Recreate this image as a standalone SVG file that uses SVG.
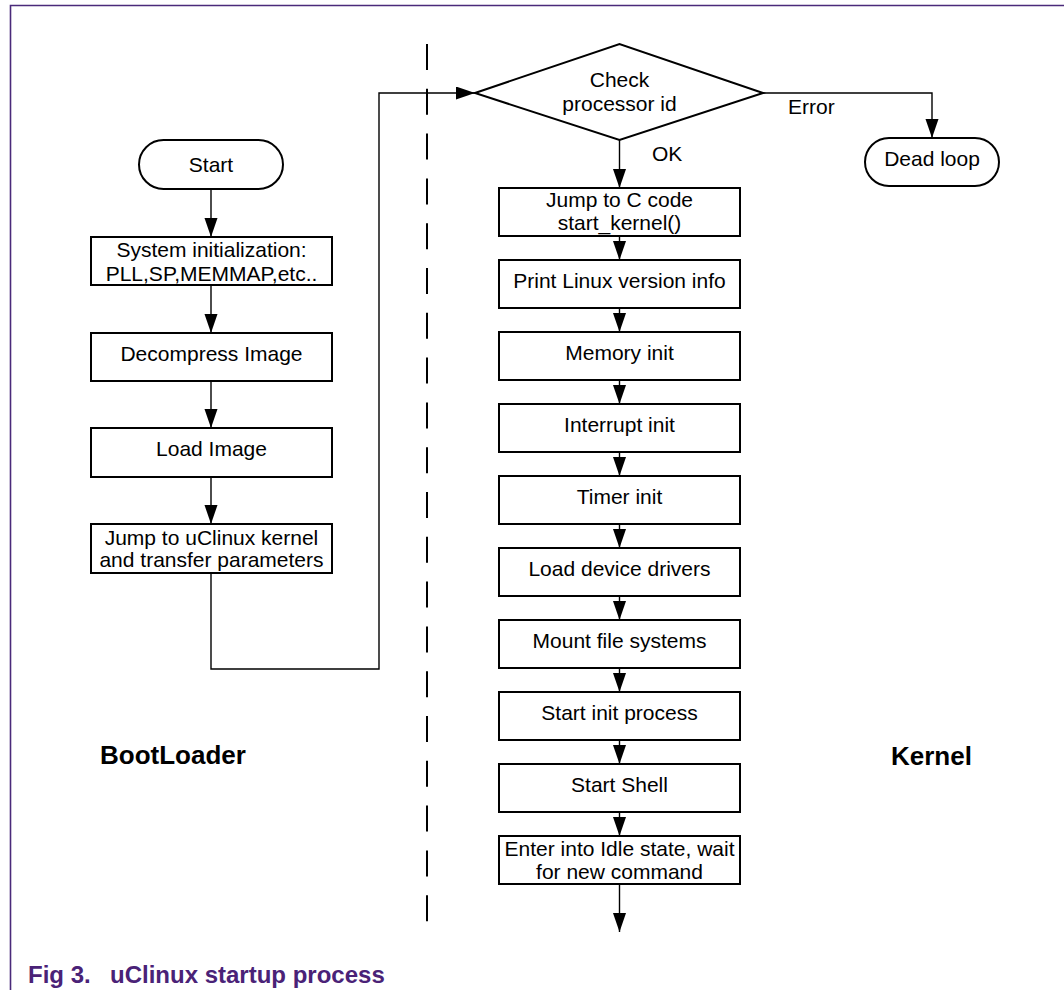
<svg xmlns="http://www.w3.org/2000/svg" width="1064" height="990" viewBox="0 0 1064 990">
<style>
.box{fill:#fff;stroke:#000;stroke-width:2}
.t{font-family:"Liberation Sans",Arial,sans-serif;font-size:21px;fill:#000;text-anchor:middle}
.lbl{font-family:"Liberation Sans",Arial,sans-serif;font-size:21px;fill:#000}
.big{font-family:"Liberation Sans",Arial,sans-serif;font-size:26px;font-weight:bold;fill:#000}
.cap{font-family:"Liberation Sans",Arial,sans-serif;font-size:24px;font-weight:bold;fill:#4a2277}
.c{fill:none;stroke:#000;stroke-width:1.4}
</style>
<defs>
<marker id="ah" markerUnits="userSpaceOnUse" markerWidth="20" markerHeight="14" refX="19" refY="6.5" orient="auto">
<path d="M0,0 L19,6.5 L0,13 z" fill="#000"/>
</marker>
</defs>
<rect width="1064" height="990" fill="#fff"/>
<g id="frame">
<path d="M10.5,990 V5.5 H1064" fill="none" stroke="#4a2a7a" stroke-width="1.6"/>
</g>
<g id="divider">
<line x1="427" y1="44" x2="427" y2="922" stroke="#000" stroke-width="2" stroke-dasharray="26 18.8"/>
</g>
<g id="connectors">
<line class="c" x1="211" y1="189" x2="211" y2="237" marker-end="url(#ah)"/>
<line class="c" x1="211" y1="285" x2="211" y2="333" marker-end="url(#ah)"/>
<line class="c" x1="211" y1="381" x2="211" y2="428" marker-end="url(#ah)"/>
<line class="c" x1="211" y1="477" x2="211" y2="524" marker-end="url(#ah)"/>
<polyline class="c" points="211,573 211,669 379,669 379,93 475,93" marker-end="url(#ah)"/>
<polyline class="c" points="763,93 932,93 932,138" marker-end="url(#ah)"/>
<line class="c" x1="619.5" y1="140" x2="619.5" y2="188" marker-end="url(#ah)"/>
<line class="c" x1="619.5" y1="236" x2="619.5" y2="260" marker-end="url(#ah)"/>
<line class="c" x1="619.5" y1="308" x2="619.5" y2="332" marker-end="url(#ah)"/>
<line class="c" x1="619.5" y1="380" x2="619.5" y2="404" marker-end="url(#ah)"/>
<line class="c" x1="619.5" y1="452" x2="619.5" y2="476" marker-end="url(#ah)"/>
<line class="c" x1="619.5" y1="524" x2="619.5" y2="548" marker-end="url(#ah)"/>
<line class="c" x1="619.5" y1="596" x2="619.5" y2="620" marker-end="url(#ah)"/>
<line class="c" x1="619.5" y1="668" x2="619.5" y2="692" marker-end="url(#ah)"/>
<line class="c" x1="619.5" y1="740" x2="619.5" y2="764" marker-end="url(#ah)"/>
<line class="c" x1="619.5" y1="812" x2="619.5" y2="836" marker-end="url(#ah)"/>
<line class="c" x1="619.5" y1="884" x2="619.5" y2="932" marker-end="url(#ah)"/>
<text class="lbl" x="652" y="161">OK</text>
<text class="lbl" x="788" y="114">Error</text>
</g>
<g id="start">
<rect class="box" x="139" y="140" width="144" height="49" rx="24.5"/>
<text class="t" x="211" y="172">Start</text>
</g>
<g id="sysinit">
<rect class="box" x="91" y="237" width="241" height="48"/>
<text class="t" x="211.5" y="257">System initialization:</text>
<text class="t" x="211.5" y="281">PLL,SP,MEMMAP,etc..</text>
</g>
<g id="decompress">
<rect class="box" x="91" y="333" width="241" height="48"/>
<text class="t" x="211.5" y="361">Decompress Image</text>
</g>
<g id="loadimage">
<rect class="box" x="91" y="428" width="241" height="49"/>
<text class="t" x="211.5" y="456">Load Image</text>
</g>
<g id="jumpkernel">
<rect class="box" x="91" y="524" width="241" height="49"/>
<text class="t" x="211.5" y="545">Jump to uClinux kernel</text>
<text class="t" x="211.5" y="567">and transfer parameters</text>
</g>
<g id="checkid">
<polygon class="box" points="475,93 619.5,44 763,93 619.5,140"/>
<text class="t" x="619.5" y="87">Check</text>
<text class="t" x="619.5" y="111">processor id</text>
</g>
<g id="deadloop">
<rect class="box" x="865" y="138" width="134" height="48" rx="24"/>
<text class="t" x="932" y="166">Dead loop</text>
</g>
<g id="jumpc">
<rect class="box" x="499" y="188" width="241" height="48"/>
<text class="t" x="619.5" y="207">Jump to C code</text>
<text class="t" x="619.5" y="230">start_kernel()</text>
</g>
<g id="printver">
<rect class="box" x="499" y="260" width="241" height="48"/>
<text class="t" x="619.5" y="288">Print Linux version info</text>
</g>
<g id="meminit">
<rect class="box" x="499" y="332" width="241" height="48"/>
<text class="t" x="619.5" y="360">Memory init</text>
</g>
<g id="intinit">
<rect class="box" x="499" y="404" width="241" height="48"/>
<text class="t" x="619.5" y="432">Interrupt init</text>
</g>
<g id="timerinit">
<rect class="box" x="499" y="476" width="241" height="48"/>
<text class="t" x="619.5" y="504">Timer init</text>
</g>
<g id="loaddrv">
<rect class="box" x="499" y="548" width="241" height="48"/>
<text class="t" x="619.5" y="576">Load device drivers</text>
</g>
<g id="mountfs">
<rect class="box" x="499" y="620" width="241" height="48"/>
<text class="t" x="619.5" y="648">Mount file systems</text>
</g>
<g id="startinit">
<rect class="box" x="499" y="692" width="241" height="48"/>
<text class="t" x="619.5" y="720">Start init process</text>
</g>
<g id="startshell">
<rect class="box" x="499" y="764" width="241" height="48"/>
<text class="t" x="619.5" y="792">Start Shell</text>
</g>
<g id="idle">
<rect class="box" x="499" y="836" width="241" height="48"/>
<text class="t" x="619.5" y="856">Enter into Idle state, wait</text>
<text class="t" x="619.5" y="879">for new command</text>
</g>
<g id="labels">
<text class="big" x="100" y="764">BootLoader</text>
<text class="big" x="891" y="765">Kernel</text>
<text class="cap" x="28" y="983">Fig 3.</text>
<text class="cap" x="110" y="983">uClinux startup process</text>
</g>
</svg>
